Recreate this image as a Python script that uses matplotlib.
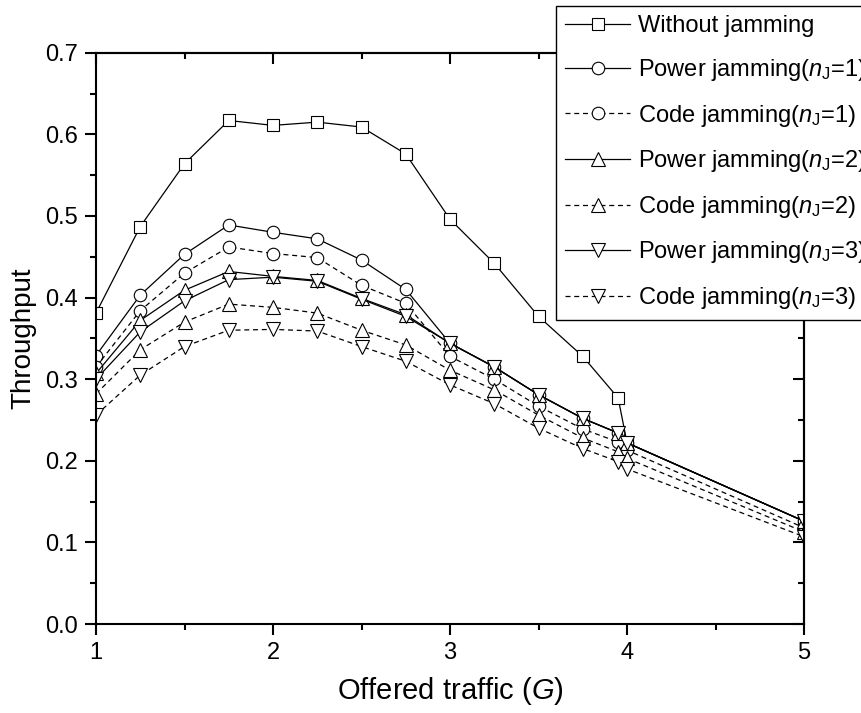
import matplotlib
matplotlib.use("Agg")
import matplotlib.pyplot as plt
from matplotlib.ticker import MultipleLocator

plt.rcParams['font.family'] = ['Liberation Sans', 'DejaVu Sans']
plt.rcParams['mathtext.fontset'] = 'custom'
plt.rcParams['mathtext.rm'] = 'Liberation Sans'
plt.rcParams['mathtext.it'] = 'Liberation Sans:italic'

# offered traffic G
G = [1, 1.25, 1.5, 1.75, 2, 2.25, 2.5, 2.75, 3, 3.25, 3.5, 3.75, 3.95, 4, 5]

without_jam = [0.381, 0.487, 0.564, 0.617, 0.611, 0.615, 0.609, 0.576, 0.496,
               0.442, 0.377, 0.328, 0.277, 0.222, 0.126]
power1 = [0.329, 0.403, 0.453, 0.489, 0.480, 0.472, 0.446, 0.410, 0.344,
          0.315, 0.281, 0.252, 0.234, 0.222, 0.126]
code1 = [0.315, 0.384, 0.430, 0.462, 0.454, 0.449, 0.415, 0.393, 0.328,
         0.300, 0.267, 0.239, 0.223, 0.213, 0.118]
power2 = [0.307, 0.372, 0.409, 0.432, 0.426, 0.421, 0.399, 0.379, 0.344,
          0.315, 0.281, 0.252, 0.234, 0.222, 0.126]
code2 = [0.282, 0.336, 0.370, 0.392, 0.388, 0.381, 0.360, 0.342, 0.311,
         0.287, 0.256, 0.228, 0.211, 0.203, 0.113]
power3 = [0.300, 0.358, 0.396, 0.422, 0.425, 0.420, 0.398, 0.377, 0.344,
          0.315, 0.281, 0.252, 0.234, 0.222, 0.126]
code3 = [0.256, 0.305, 0.340, 0.360, 0.361, 0.359, 0.340, 0.322, 0.293,
         0.270, 0.240, 0.215, 0.199, 0.190, 0.107]

nj = r"$\it{n}_\mathregular{J}$"
labels = ["Without jamming",
          "Power jamming(" + nj + "=1)",
          "Code jamming(" + nj + "=1)",
          "Power jamming(" + nj + "=2)",
          "Code jamming(" + nj + "=2)",
          "Power jamming(" + nj + "=3)",
          "Code jamming(" + nj + "=3)"]

series = [without_jam, power1, code1, power2, code2, power3, code3]
markers = ['s', 'o', 'o', '^', '^', 'v', 'v']
dashed = (0, (4, 3))
styles = ['-', '-', dashed, '-', dashed, '-', dashed]

fig = plt.figure(figsize=(8.61, 7.13), dpi=100)
ax = fig.add_axes([0.1115, 0.1248, 0.8223, 0.8012])

for ys, mk, ls, lab in zip(series, markers, styles, labels):
    ax.plot(G, ys, color='black', linestyle=ls, linewidth=0.9,
            marker=mk, markersize=10 if mk in '^v' else 9,
            markerfacecolor='white', markeredgecolor='black',
            markeredgewidth=0.8, label=lab)

ax.set_xlim(1, 5)
ax.set_ylim(0, 0.7)
ax.xaxis.set_major_locator(MultipleLocator(1))
ax.xaxis.set_minor_locator(MultipleLocator(0.5))
ax.yaxis.set_major_locator(MultipleLocator(0.1))
ax.yaxis.set_minor_locator(MultipleLocator(0.05))
ax.yaxis.set_major_formatter(lambda v, p: f"{v:.1f}")

for s in ax.spines.values():
    s.set_linewidth(1.5)
ax.tick_params(which='major', direction='out', length=8, width=1.5,
               labelsize=17, pad=5)
ax.tick_params(which='minor', direction='out', length=4.5, width=1.5)

# top / right axes with inward ticks, no labels
top = ax.secondary_xaxis('top')
top.xaxis.set_major_locator(MultipleLocator(1))
top.xaxis.set_minor_locator(MultipleLocator(0.5))
top.tick_params(which='major', direction='in', length=8, width=1.5, labeltop=False)
top.tick_params(which='minor', direction='in', length=4.5, width=1.5)
top.spines['top'].set_linewidth(1.5)
right = ax.secondary_yaxis('right')
right.yaxis.set_major_locator(MultipleLocator(0.1))
right.yaxis.set_minor_locator(MultipleLocator(0.05))
right.tick_params(which='major', direction='in', length=8, width=1.5, labelright=False)
right.tick_params(which='minor', direction='in', length=4.5, width=1.5)
right.spines['right'].set_linewidth(1.5)

ax.set_xlabel(r"Offered traffic ($\it{G}$)", fontsize=21, labelpad=8)
ax.set_ylabel("Throughput", fontsize=20, labelpad=6)

# legend runs past the right edge of the figure, as in the original
handles, labs = ax.get_legend_handles_labels()
leg = fig.legend(handles, labs, loc='upper left',
                 bbox_to_anchor=(556 / 861, 1 - 6 / 713), borderaxespad=0,
                 fontsize=17, handlelength=2.75, handletextpad=0.34,
                 labelspacing=0.83, borderpad=0.4, fancybox=False,
                 framealpha=1, edgecolor='black')
leg.get_frame().set_linewidth(1.0)

fig.savefig("out.png", dpi=100)
